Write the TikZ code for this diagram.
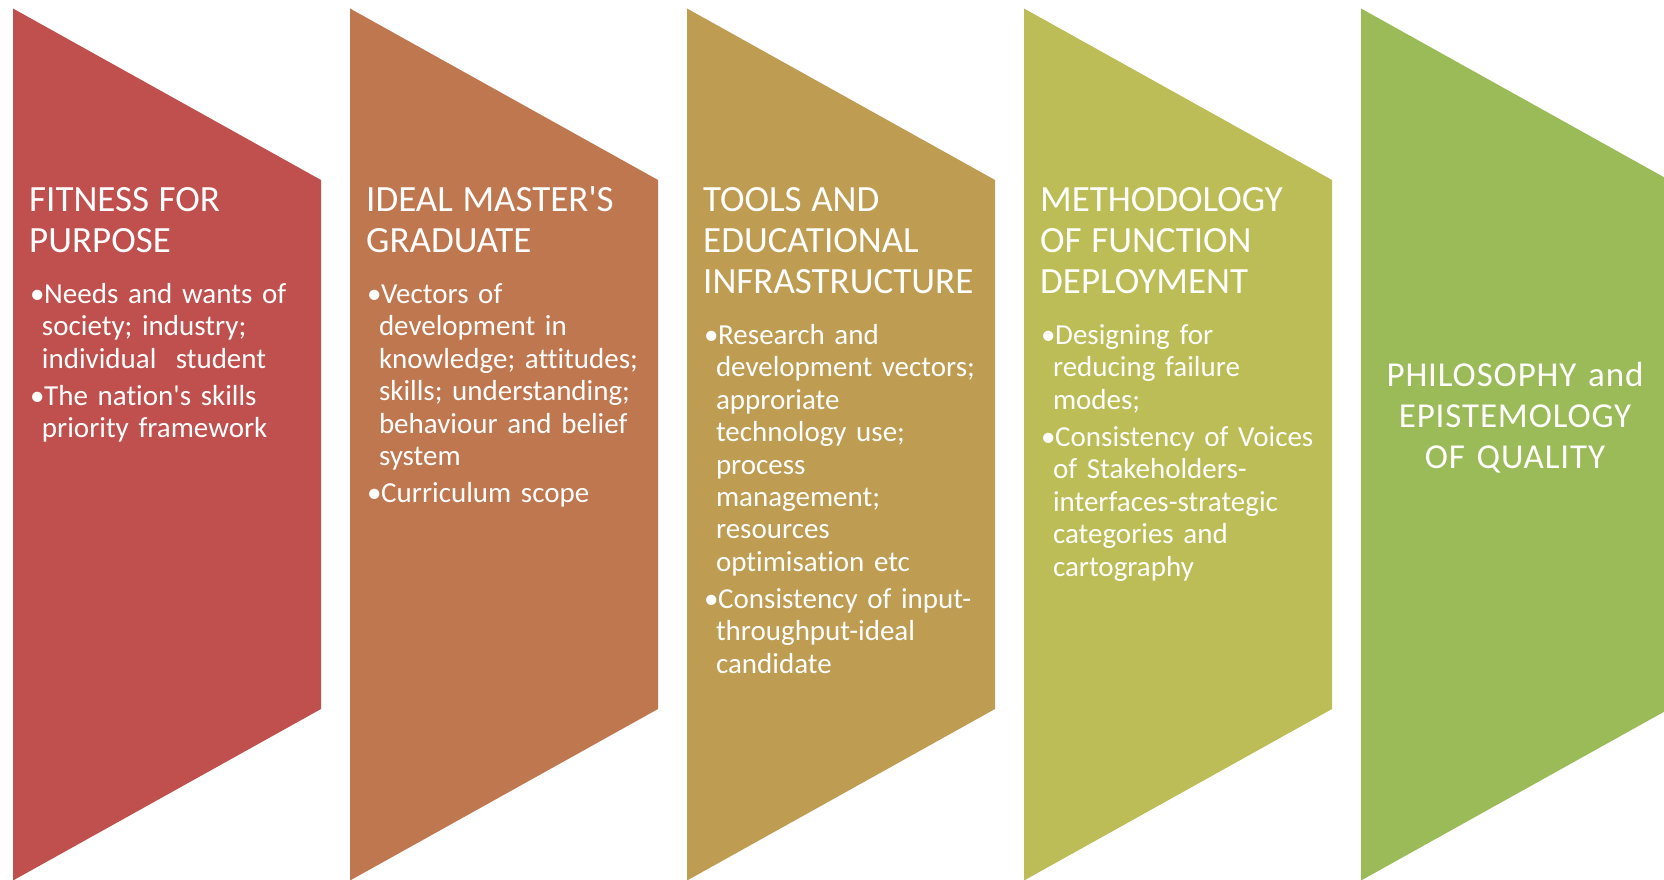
\documentclass[tikz,border=0pt]{standalone}
\usepackage{fontspec}
\setmainfont{Carlito}[Ligatures={NoCommon}]
\usepackage{tikz}
\usetikzlibrary{calc}

\definecolor{stageA}{HTML}{C0504D}
\definecolor{stageB}{HTML}{BF7750}
\definecolor{stageC}{HTML}{BE9C52}
\definecolor{stageD}{HTML}{BDBD58}
\definecolor{stageE}{HTML}{9BBB59}

\newcommand{\nl}{\hfil\break}
\newcommand{\stagetitle}[1]{{\fontsize{37}{41}\selectfont #1\par}\vspace{14.3pt}}
\newcommand{\stageitem}[1]{\vspace{4.8pt}{\leftskip=12.8pt\noindent\hspace*{-12.8pt}\makebox[15pt][l]{\hspace{1pt}\textbullet}#1\par}}

\begin{document}
\begin{tikzpicture}[x=1pt, y=-1pt, stage/.style={fill=#1, draw=none}]
		\useasboundingbox (0,0) rectangle (1664,880);
		
		\fill[stage=stageA] (13,8.5) -- (321,180) -- (321,709) -- (13,880.5) -- cycle;
		\fill[stage=stageB] (350,8.5) -- (658,180) -- (658,709) -- (350,880.5) -- cycle;
		\fill[stage=stageC] (687,8.5) -- (995,180) -- (995,709) -- (687,880.5) -- cycle;
		\fill[stage=stageD] (1024,8.5) -- (1332,180) -- (1332,709) -- (1024,880.5) -- cycle;
		\fill[stage=stageE] (1361,8.5) -- (1669,180) -- (1669,709) -- (1361,880.5) -- cycle;
		
		\begin{scope}[every node/.style={text=white, inner sep=0, text width=290pt, align=left, anchor=base west, font=\fontsize{29}{32.4}\selectfont}]
		\node (s1) at (29,211) {\stagetitle{FITNESS FOR\\PURPOSE}%
			\stageitem{Needs and wants of\nl society; industry;\nl individual\ \ student}%
			\stageitem{The nation\textquotesingle s skills\nl priority framework}};
		\node (s2) at (366,211) {\stagetitle{IDEAL MASTER\textquotesingle S\\GRADUATE}%
			\stageitem{Vectors of\nl development in\nl knowledge; attitudes;\nl skills; understanding;\nl behaviour and belief\nl system}%
			\stageitem{Curriculum scope}};
		\node (s3) at (703,211) {\stagetitle{TOOLS AND\\EDUCATIONAL\\INFRASTRUCTURE}%
			\stageitem{Research and\nl development vectors;\nl approriate\nl technology use;\nl process\nl management;\nl resources\nl optimisation etc}%
			\stageitem{Consistency of input-\nl throughput-ideal\nl candidate}};
		\node (s4) at (1040,211) {\stagetitle{METHODOLOGY\\OF FUNCTION\\DEPLOYMENT}%
			\stageitem{Designing for\nl reducing failure\nl modes;}%
			\stageitem{Consistency of Voices\nl of Stakeholders-\nl interfaces-strategic\nl categories and\nl cartography}};
		\node[align=center, anchor=base, font=\fontsize{35}{41}\selectfont\addfontfeatures{LetterSpace=2.5}] (s5) at (1515,386) {PHILOSOPHY and\\EPISTEMOLOGY\\OF QUALITY};
		\end{scope}
		
\end{tikzpicture}
\end{document}
